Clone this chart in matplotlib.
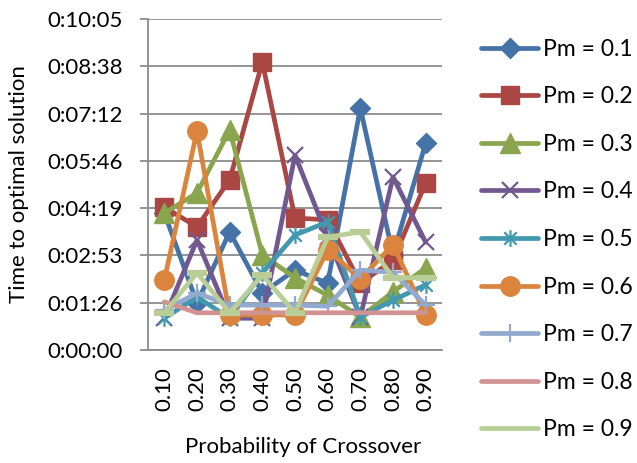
import matplotlib
matplotlib.use("Agg")
import matplotlib.pyplot as plt
from matplotlib.path import Path
from matplotlib.ticker import FixedLocator, FuncFormatter

plt.rcParams["font.family"] = ["Lato", "DejaVu Sans"]

# probability of crossover (categories) and time to optimum in seconds, per Pm
pc_labels = ["0.10", "0.20", "0.30", "0.40", "0.50", "0.60", "0.70", "0.80", "0.90"]
pm_labels = ["Pm = 0.1", "Pm = 0.2", "Pm = 0.3", "Pm = 0.4", "Pm = 0.5",
             "Pm = 0.6", "Pm = 0.7", "Pm = 0.8", "Pm = 0.9"]
pm01 = [250, 86, 216, 104, 146, 122, 442, 174, 378]
pm02 = [261, 225, 311, 526, 241, 238, 122, 164, 305]
pm03 = [250, 287, 402, 174, 132, 100, 60, 106, 150]
pm04 = [58, 201, 58, 58, 356, 206, 60, 316, 197]
pm05 = [58, 97, 58, 141, 210, 234, 60, 91, 119]
pm06 = [128, 400, 64, 64, 64, 183, 130, 192, 64]
pm07 = [73, 104, 82, 82, 82, 80, 146, 142, 82]
pm08 = [88, 68, 68, 68, 68, 68, 68, 68, 68]
pm09 = [68, 141, 68, 137, 68, 206, 216, 132, 132]
series = [pm01, pm02, pm03, pm04, pm05, pm06, pm07, pm08, pm09]

# y ticks are excel time steps of 0.001 day
y_ticks = [0, 86.4, 172.8, 259.2, 345.6, 432.0, 518.4, 604.8]

colors = ["#4572A7", "#AA4643", "#89A54E", "#71588F", "#4198AF",
          "#DB843D", "#93A9CF", "#D19392", "#B9CD96"]

# excel style asterisk: vertical bar plus an x
asterisk = Path([(0, -1), (0, 1), (-0.75, -0.75), (0.75, 0.75), (-0.75, 0.75), (0.75, -0.75)],
                [Path.MOVETO, Path.LINETO, Path.MOVETO, Path.LINETO, Path.MOVETO, Path.LINETO])

marker_opts = [
    dict(marker="D", ms=10),
    dict(marker="s", ms=13),
    dict(marker="^", ms=14),
    dict(marker="x", ms=12, mew=1.6),
    dict(marker=asterisk, ms=12, mew=1.6, mfc="none"),
    dict(marker="o", ms=14),
    dict(marker="+", ms=13, mew=1.6),
    dict(marker="None"),
    dict(marker="_", ms=14, mew=4.5),
]


def fmt_time(v, pos):
    s = int(round(v))
    return f"{s // 3600}:{(s % 3600) // 60:02d}:{s % 60:02d}"


fig = plt.figure(figsize=(6.37, 4.63), dpi=100)
ax = fig.add_axes([148 / 637, 1 - 350 / 463, 294 / 637, 331 / 463])

x = list(range(len(pc_labels)))
for i, (vals, lab, c, mo) in enumerate(zip(series, pm_labels, colors, marker_opts)):
    mo = dict(mo)
    ax.plot(x, vals, color=c, lw=3.4, label=lab, mec=c, mfc=mo.pop("mfc", c),
            solid_joinstyle="round", solid_capstyle="round", zorder=3 + i, **mo)

ax.set_xlim(-0.5, len(pc_labels) - 0.5)
ax.set_ylim(0, 604.8)
ax.yaxis.set_major_locator(FixedLocator(y_ticks))
ax.yaxis.set_major_formatter(FuncFormatter(fmt_time))
ax.set_xticks(x)
ax.set_xticklabels(pc_labels, rotation=90)
ax.grid(axis="y", color="#8c8c8c", lw=1.3)
ax.set_axisbelow(True)
for side in ("top", "right"):
    ax.spines[side].set_visible(False)
for side in ("left", "bottom"):
    ax.spines[side].set_color("#8c8c8c")
    ax.spines[side].set_linewidth(1.3)
ax.tick_params(axis="y", length=6, width=1.3, color="#8c8c8c", pad=12, labelsize=16)
ax.tick_params(axis="x", length=0, pad=12, labelsize=16)

ax.set_ylabel("Time to optimal solution", fontsize=16)
ax.yaxis.set_label_coords((19 - 148) / 294, 0.5)
ax.set_xlabel("Probability of Crossover", fontsize=16)
ax.xaxis.set_label_coords((303 - 148) / 294, (350 - 447) / 331)
ax.xaxis.label.set_va("center")
ax.yaxis.label.set_va("center")

leg = fig.legend(loc="center left", bbox_to_anchor=(481 / 637, 1 - 239.5 / 463), frameon=False,
                 fontsize=16.5, handlelength=2.5, handletextpad=0.2, labelspacing=1.16,
                 borderpad=0, borderaxespad=0)
# the dash marker of Pm = 0.9 merges into its legend line in the original
leg.legend_handles[8].set_marker("None")

fig.savefig("out.png", dpi=100)
